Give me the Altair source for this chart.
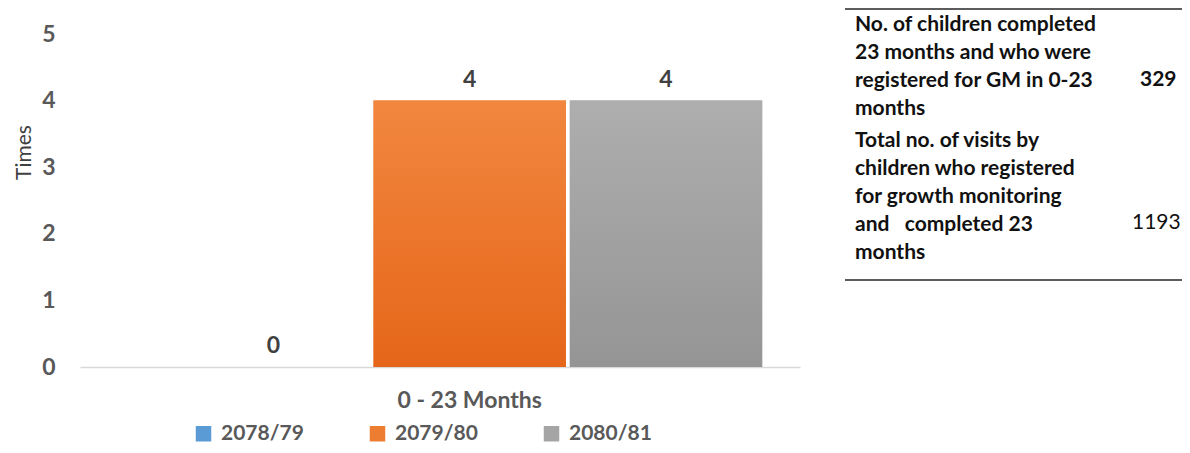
import altair as alt
import pandas as pd

# ---- data ----
groups = ["0 - 23 Months"]
series = ["2078/79", "2079/80", "2080/81"]
values = [0, 4, 4]
colors = ["#5B9BD5", "#ED7D31", "#A5A5A5"]
grad_top = {"2079/80": "#F2873F", "2080/81": "#AEAEAE"}
grad_bottom = {"2079/80": "#E5661A", "2080/81": "#959595"}
y_ticks = [0, 1, 2, 3, 4, 5]

table_labels = [
    "No. of children completed\n23 months and who were\nregistered for GM in 0-23\nmonths",
    "Total no. of visits by\nchildren who registered\nfor growth monitoring\nand\u00a0\u00a0 completed 23\nmonths",
]
table_values = ["329", "1193"]

FONT = "Lato"
df = pd.DataFrame({"group": groups * len(series), "series": series, "value": values})

x_enc = alt.X(
    "group:N",
    scale=alt.Scale(paddingOuter=0.1154, paddingInner=0, align=0.72),
    axis=alt.Axis(
        title=None, labelAngle=0, ticks=False, domainColor="#d9d9d9", domainWidth=1.5,
        labelFont=FONT, labelFontSize=23, labelFontWeight="bold", labelColor="#595959",
        labelPadding=22,
    ),
)
xo_enc = alt.XOffset("series:N", sort=series, scale=alt.Scale(paddingInner=0.02, paddingOuter=0))
y_enc = alt.Y(
    "value:Q",
    scale=alt.Scale(domain=[0, 5], nice=False),
    axis=alt.Axis(
        values=y_ticks, grid=False, domain=False, ticks=False, format="d",
        labelFont=FONT, labelFontSize=23, labelFontWeight="bold", labelColor="#595959",
        labelPadding=25,
        title="Times", titleFont=FONT, titleFontSize=21, titleFontWeight="normal",
        titleColor="#404040", titleAngle=270, titleAlign="center", titleBaseline="middle",
        titleX=-56, titleY=118,
    ),
)

base = alt.Chart(df).encode(x=x_enc, xOffset=xo_enc, y=y_enc)

bars = base.mark_bar().encode(
    color=alt.Color(
        "series:N", sort=series,
        scale=alt.Scale(domain=series, range=colors),
        legend=alt.Legend(
            title=None, orient="none", legendX=113, legendY=389, direction="horizontal",
            symbolType="square", symbolSize=240, symbolStrokeWidth=0, labelOffset=7,
            labelFont=FONT, labelFontSize=21, labelFontWeight="bold", labelColor="#595959",
            columnPadding=63,
        ),
    )
)

overlays = []
for s in ["2079/80", "2080/81"]:
    g = alt.Gradient(
        gradient="linear", x1=0, x2=0, y1=0, y2=1,
        stops=[alt.GradientStop(color=grad_top[s], offset=0),
               alt.GradientStop(color=grad_bottom[s], offset=1)],
    )
    overlays.append(
        base.transform_filter(alt.datum.series == s).mark_bar(fill=g)
    )

labels = base.mark_text(
    dy=-21, font=FONT, fontSize=23, fontWeight="bold", color="#404040", baseline="middle"
).encode(text=alt.Text("value:Q", format="d"))

lbl_df = pd.DataFrame({"t": table_labels})
row1 = alt.Chart(lbl_df.iloc[[0]]).mark_text(
    align="left", baseline="top", font=FONT, fontSize=21, fontWeight="bold",
    color="#111111", lineBreak="\n", lineHeight=28,
).encode(text="t:N", x=alt.value(775), y=alt.value(-20))
row2 = alt.Chart(lbl_df.iloc[[1]]).mark_text(
    align="left", baseline="top", font=FONT, fontSize=21, fontWeight="bold",
    color="#111111", lineBreak="\n", lineHeight=28,
).encode(text="t:N", x=alt.value(775), y=alt.value(96))

val_df = pd.DataFrame({"v": table_values})
val1 = alt.Chart(val_df.iloc[[0]]).mark_text(
    align="left", baseline="alphabetic", font=FONT, fontSize=21, fontWeight="bold", color="#111111"
).encode(text="v:N", x=alt.value(1060), y=alt.value(52))
val2 = alt.Chart(val_df.iloc[[1]]).mark_text(
    align="left", baseline="alphabetic", font=FONT, fontSize=21, fontWeight="normal", color="#111111"
).encode(text="v:N", x=alt.value(1052), y=alt.value(195))

rule_df = pd.DataFrame({"k": [0]})
top_rule = alt.Chart(rule_df).mark_rule(color="#262626", strokeWidth=1.5).encode(
    x=alt.value(765), x2=alt.value(1102), y=alt.value(-25))
bot_rule = alt.Chart(rule_df).mark_rule(color="#262626", strokeWidth=1.5).encode(
    x=alt.value(765), x2=alt.value(1102), y=alt.value(246))

chart = alt.layer(
    bars, *overlays, labels, row1, row2, val1, val2, top_rule, bot_rule
).properties(
    width=720, height=333,
    padding={"left": 72, "top": 26, "right": 382, "bottom": 78},
    autosize=alt.AutoSizeParams(type="none"),
).configure_view(stroke=None)

chart.save("out.html", embed_options={"renderer": "svg", "actions": False})
